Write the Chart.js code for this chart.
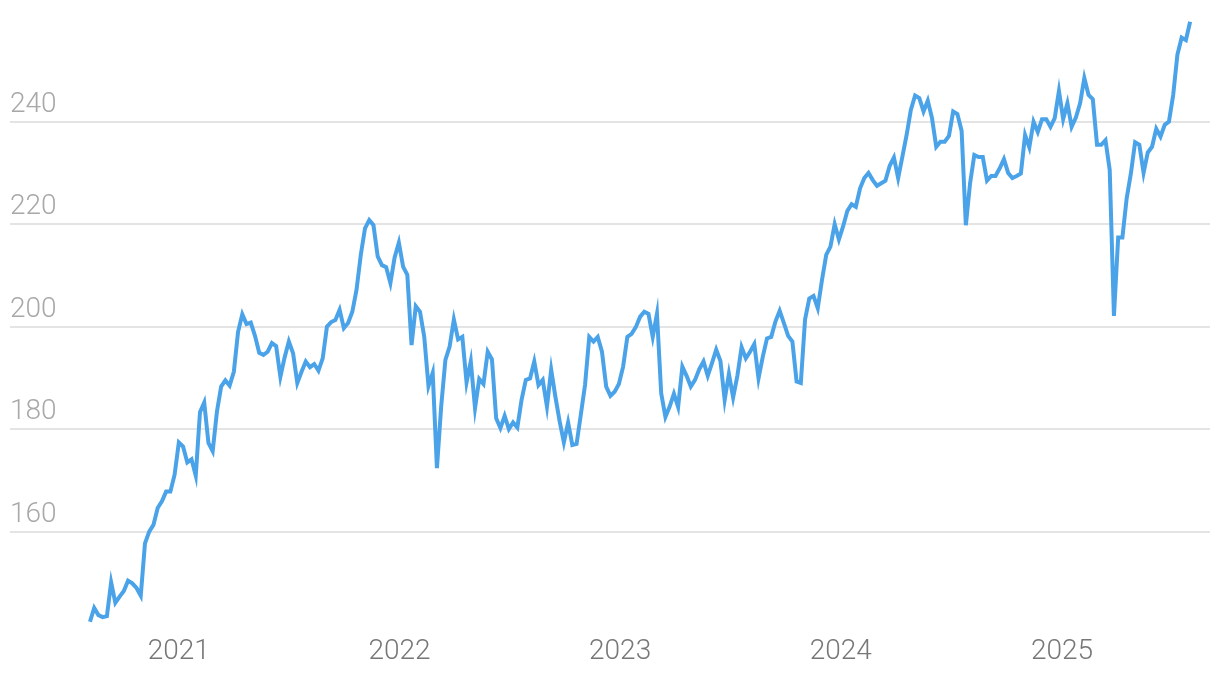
<!DOCTYPE html>
<html>
<head>
<meta charset="utf-8">
<script src="https://cdn.jsdelivr.net/npm/chart.js@4"></script>
<style>
  html, body { margin: 0; padding: 0; background: #fff; }
  #wrap { width: 1220px; height: 678px; position: relative; }
</style>
</head>
<body>
<div id="wrap"><canvas id="priceChart"></canvas></div>
<script>
// weekly closes, first week starting on this date
const startDate = '2020-08-07';

const weeklyValues = [
  142.4, 145.1, 143.7, 143.3, 143.5, 150.1, 146.1, 147.3, 148.4, 150.4,
  149.9, 149.0, 147.5, 157.7, 160.0, 161.3, 164.6, 165.9, 167.8, 167.8,
  171.1, 177.4, 176.6, 173.5, 174.1, 170.9, 183.3, 185.2, 177.3, 175.7,
  183.4, 188.3, 189.5, 188.5, 191.2, 199.0, 202.4, 200.5, 200.8, 198.2,
  194.9, 194.5, 195.1, 196.8, 196.2, 190.2, 194.0, 197.1, 194.8, 189.0,
  191.2, 193.2, 192.1, 192.7, 191.4, 193.8, 200.0, 200.9, 201.3, 203.3,
  199.7, 200.7, 202.9, 207.2, 214.0, 219.2, 220.8, 219.8, 213.7, 212.0,
  211.6, 208.5, 213.5, 216.4, 211.7, 210.1, 196.4, 204.0, 202.9, 198.0,
  188.4, 191.0, 172.4, 184.4, 193.5, 196.1, 201.4, 197.5, 198.0, 189.1,
  193.2, 184.1, 189.8, 188.8, 195.1, 193.6, 182.1, 180.2, 182.6, 180.0,
  181.3, 180.3, 185.7, 189.6, 189.9, 193.2, 188.6, 189.6, 184.4, 191.6,
  186.3, 181.5, 177.4, 181.3, 176.9, 177.1, 182.8, 188.6, 198.0, 197.1,
  198.0, 195.1, 188.3, 186.5, 187.3, 188.8, 192.2, 198.0, 198.6, 199.9,
  201.9, 202.9, 202.5, 198.0, 202.5, 187.0, 182.4, 184.4, 186.9, 184.3,
  192.2, 190.4, 188.3, 189.6, 191.7, 193.2, 190.4, 192.9, 195.5, 193.3,
  185.7, 190.8, 186.2, 190.4, 196.0, 193.8, 195.1, 196.6, 189.9, 194.1,
  197.7, 198.0, 201.0, 203.1, 200.7, 198.2, 197.1, 189.3, 189.0, 201.4,
  205.5, 206.0, 203.6, 209.1, 214.0, 215.6, 220.0, 217.0, 219.6, 222.6,
  223.9, 223.4, 227.0, 229.0, 230.0, 228.6, 227.5, 228.0, 228.5, 231.4,
  233.0, 229.0, 233.2, 237.4, 242.3, 245.1, 244.6, 242.0, 244.1, 240.7,
  235.1, 236.1, 236.1, 237.2, 242.0, 241.5, 238.2, 219.8, 228.0, 233.5,
  233.1, 233.1, 228.5, 229.4, 229.4, 230.9, 232.7, 230.0, 229.0, 229.4,
  229.9, 237.4, 235.0, 240.0, 238.0, 240.5, 240.5, 239.0, 240.7, 246.0,
  240.5, 243.6, 239.0, 240.8, 243.6, 248.5, 245.2, 244.4, 235.5, 235.5,
  236.4, 230.6, 202.1, 217.4, 217.4, 225.0, 229.9, 236.0, 235.5, 230.0,
  234.0, 235.1, 238.6, 237.1, 239.4, 240.0, 245.2, 253.1, 256.4, 255.9,
  259.5
];

const yearLabels = ['2021', '2022', '2023', '2024', '2025'];
const yTickValues = [160, 180, 200, 220, 240];

// position of each Jan 1st, in weeks from the first point
const DAY = 24 * 3600 * 1000;
const t0 = new Date(startDate + 'T00:00:00Z').getTime();
const yearPos = yearLabels.map(y => (new Date(y + '-01-01T00:00:00Z').getTime() - t0) / (7 * DAY));

const points = weeklyValues.map((v, i) => ({ x: i, y: v }));

// no extra room around the axes for tick labels
function noLabelPadding(scale) {
  scale.paddingTop = 0;
  scale.paddingBottom = 0;
  scale.paddingLeft = 0;
  scale.paddingRight = 0;
}

const ctx = document.getElementById('priceChart').getContext('2d');
new Chart(ctx, {
  type: 'line',
  data: {
    datasets: [{
      data: points,
      borderColor: '#4aa3e8',
      borderWidth: 4,
      pointRadius: 0,
      tension: 0,
      fill: false
    }]
  },
  options: {
    responsive: true,
    maintainAspectRatio: false,
    animation: false,
    layout: { padding: { left: 10, right: 10, top: 0, bottom: 1 } },
    plugins: {
      legend: { display: false },
      tooltip: { enabled: false }
    },
    scales: {
      x: {
        type: 'linear',
        min: -18.9,
        max: 264.7,
        grid: { display: false, drawTicks: false },
        border: { display: false },
        afterBuildTicks: function(scale) {
          scale.ticks = yearPos.map(p => ({ value: p }));
        },
        afterFit: noLabelPadding,
        ticks: {
          autoSkip: false,
          maxRotation: 0,
          padding: 8,
          color: '#777777',
          font: { family: 'Roboto', size: 28, weight: '300' },
          callback: function(value, index) {
            return yearLabels[index];
          }
        }
      },
      y: {
        min: 141.3,
        max: 263.75,
        grid: { color: '#e4e4e4', lineWidth: 2, drawTicks: false },
        border: { display: false },
        afterBuildTicks: function(scale) {
          scale.ticks = yTickValues.map(v => ({ value: v }));
        },
        afterFit: noLabelPadding,
        ticks: {
          mirror: true,
          padding: 0,
          labelOffset: -17,
          color: '#a8a8a8',
          font: { family: 'Roboto', size: 28, weight: '300' }
        }
      }
    }
  }
});
</script>
</body>
</html>
